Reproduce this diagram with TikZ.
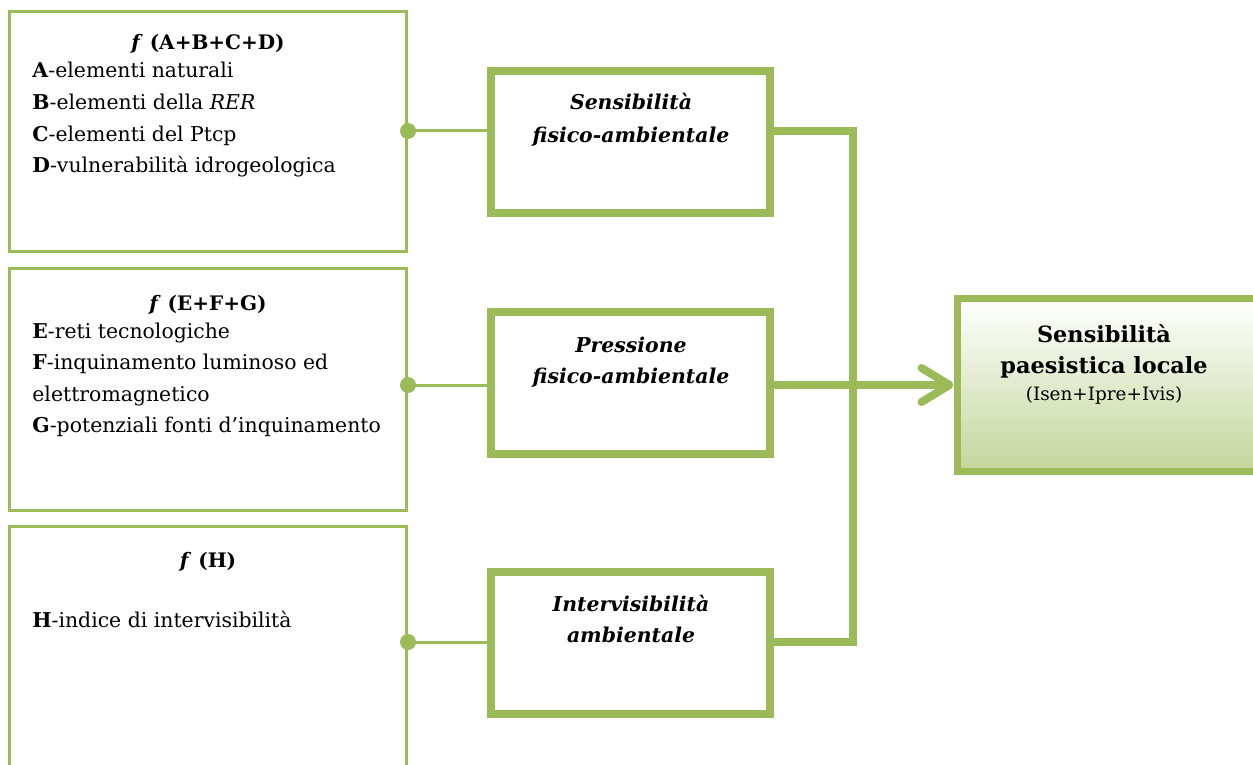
\documentclass[tikz,border=0pt]{standalone}
\usepackage{fontspec}
\setmainfont{DejaVu Serif}
\usetikzlibrary{positioning,arrows.meta}
\definecolor{olive}{HTML}{9BBB59}
\definecolor{olivelight}{HTML}{C3D69B}
\tikzset{
  inbox/.style={draw=olive, line width=1.5pt, minimum width=198.5pt, inner sep=0pt},
  midbox/.style={draw=olive, line width=4pt, fill=white, minimum width=139.5pt, minimum height=71pt, inner sep=0pt},
  outbox/.style={draw=olive, line width=3.5pt, top color=white, bottom color=olivelight, minimum width=171.5pt, minimum height=86.5pt, inner sep=0pt},
  thinline/.style={olive, line width=1.5pt},
  thickline/.style={olive, line width=4pt},
  joint/.style={circle, fill=olive, inner sep=0pt, minimum size=8pt},
  item/.style={anchor=base west, inner sep=0pt, font=\fontsize{10.2}{12}\selectfont},
  title/.style={anchor=base, inner sep=0pt, font=\fontsize{10}{12}\selectfont\bfseries},
  midtext/.style={anchor=base, inner sep=0pt, font=\fontsize{10.2}{12}\selectfont\bfseries\itshape},
}

\begin{document}
\begin{tikzpicture}[x=0.5pt,y=-0.5pt]
	\useasboundingbox (0,0) rectangle (1253,765);
	\clip (0,0) rectangle (1253,765);

	% left boxes
	\node[inbox, minimum height=120pt] (inA) at (208,131.5) {};
	\node[inbox, minimum height=121pt] (inB) at (208,389.5) {};
	\node[inbox, minimum height=140pt] (inC) at (208,666.5) {};

	\node[title] (fA) at (208,50) {\textit{f} (A+B+C+D)};
	\node[title] (fB) at (208,310) {\textit{f} (E+F+G)};
	\node[title] (fC) at (208,567) {\textit{f} (H)};

	\foreach \txt [count=\k] in {\textbf{A}-elementi naturali, \textbf{B}-elementi della \textit{RER}, \textbf{C}-elementi del Ptcp, \textbf{D}-vulnerabilità idrogeologica}
		\node[item] (lA\k) at (32,46.5+31.5*\k) {\txt};
	\foreach \txt [count=\k] in {\textbf{E}-reti tecnologiche, \textbf{F}-inquinamento luminoso ed, elettromagnetico, \textbf{G}-potenziali fonti d’inquinamento}
		\node[item] (lB\k) at (32,306.5+31.5*\k) {\txt};
	\node[item] (lC1) at (32,627) {\textbf{H}-indice di intervisibilità};

	% middle boxes
	\node[midbox] (midA) at (630.5,142) {};
	\node[midbox] (midB) at (630.5,383) {};
	\node[midbox] (midC) at (630.5,642.5) {};

	\node[midtext] (tA1) at (631,110) {Sensibilità};
	\node[midtext] (tA2) at (631,142) {fisico-ambientale};
	\node[midtext] (tB1) at (631,352) {Pressione};
	\node[midtext] (tB2) at (631,383) {fisico-ambientale};
	\node[midtext] (tC1) at (631,611) {Intervisibilità};
	\node[midtext] (tC2) at (631,642) {ambientale};

	% result
	\node[outbox] (out) at (1128.5,385) {};
	\node[title, font=\fontsize{11.2}{13}\selectfont\bfseries] (oA) at (1104,342) {Sensibilità};
	\node[title, font=\fontsize{11.2}{13}\selectfont\bfseries] (oB) at (1104,373) {paesistica locale};
	\node[title, font=\fontsize{9.2}{11}\selectfont\mdseries] (oC) at (1104,400) {(Isen+Ipre+Ivis)};

	% joints
	\coordinate (jA) at (408,131);
	\coordinate (jB) at (408,385);
	\coordinate (jC) at (408,642);
	\coordinate (bus) at (853,131);

	\foreach \j/\m in {jA/midA, jB/midB, jC/midC} {
		\draw[thinline] (\j) -- (\j -| \m.west);
		\node[joint] at (\j) {};
	}

	\draw[thickline] (midA.east |- jA) -- (bus) |- (midC.east |- jC);
	\draw[thickline, -{Straight Barb[length=14pt, width=17pt, line cap=round, line join=round]}] (midB.east |- jB) -- (out.west |- jB);
\end{tikzpicture}
\end{document}
